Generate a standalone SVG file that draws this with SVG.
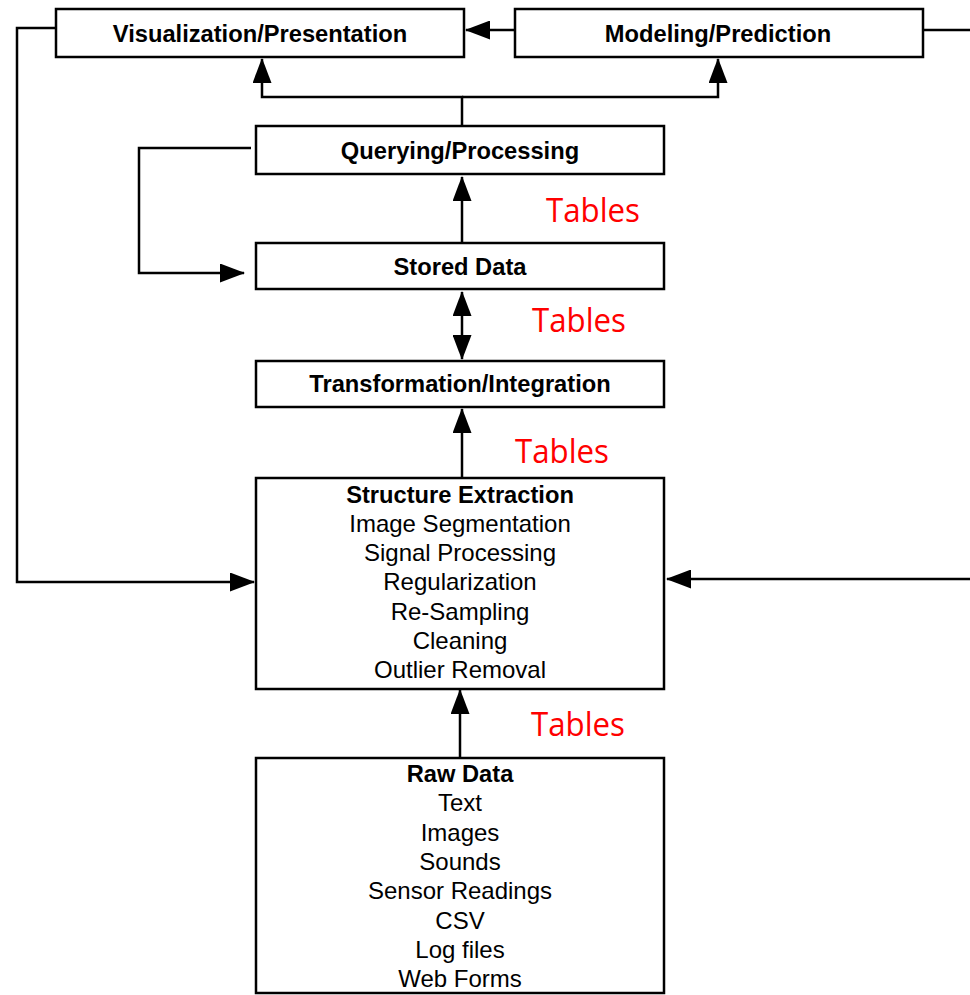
<svg xmlns="http://www.w3.org/2000/svg" width="970" height="995" viewBox="0 0 970 995">
  <style>
    .box { fill: #ffffff; stroke: #000000; stroke-width: 2.5; }
    .title { font-family: "Liberation Sans", Arial, sans-serif; font-weight: bold; font-size: 23.7px; fill: #000000; text-anchor: middle; }
    .item { font-family: "Liberation Sans", Arial, sans-serif; font-size: 24px; fill: #000000; text-anchor: middle; }
    .tables { font-family: "Open Sans", "Noto Sans", sans-serif; font-size: 33px; fill: #ff0000; }
    .wire { fill: none; stroke: #000000; stroke-width: 2.5; }
  </style>
  <defs>
    <marker id="arrow" viewBox="0 0 25 19" refX="24" refY="9.5" markerWidth="25" markerHeight="19" markerUnits="userSpaceOnUse" orient="auto-start-reverse">
      <path d="M0,0 L25,9.5 L0,19 Z" fill="#000000"/>
    </marker>
  </defs>

  <rect width="970" height="995" fill="#ffffff"/>

  <!-- connectors -->
  <g id="connectors">
    <!-- Modeling -> Visualization -->
    <path class="wire" d="M515,30 H466" marker-end="url(#arrow)"/>
    <!-- Querying fan-out to Visualization and Modeling -->
    <path class="wire" d="M462,126 V97 H262 V59" marker-end="url(#arrow)"/>
    <path class="wire" d="M462,97 H718 V59" marker-end="url(#arrow)"/>
    <!-- Visualization feedback to Structure Extraction -->
    <path class="wire" d="M55,28 H17 V582 H254" marker-end="url(#arrow)"/>
    <!-- Modeling feedback to Structure Extraction -->
    <path class="wire" d="M923,30 H972"/>
    <path class="wire" d="M972,579 H667" marker-end="url(#arrow)"/>
    <!-- Querying loop back to Stored Data -->
    <path class="wire" d="M251,148 H139 V273 H244" marker-end="url(#arrow)"/>
    <!-- Stored Data -> Querying -->
    <path class="wire" d="M462,243 V177" marker-end="url(#arrow)"/>
    <!-- Stored Data <-> Transformation -->
    <path class="wire" d="M462,292 V359" marker-start="url(#arrow)" marker-end="url(#arrow)"/>
    <!-- Structure Extraction -> Transformation -->
    <path class="wire" d="M462,478 V409" marker-end="url(#arrow)"/>
    <!-- Raw Data -> Structure Extraction -->
    <path class="wire" d="M460,758 V690" marker-end="url(#arrow)"/>
  </g>

  <g id="visualization">
    <rect class="box" x="56" y="9" width="408" height="48"/>
    <text class="title" x="260" y="42">Visualization/Presentation</text>
  </g>

  <g id="modeling">
    <rect class="box" x="515" y="9" width="408" height="48"/>
    <text class="title" x="718" y="42">Modeling/Prediction</text>
  </g>

  <g id="querying">
    <rect class="box" x="256" y="126" width="408" height="48"/>
    <text class="title" x="460" y="159">Querying/Processing</text>
  </g>

  <g id="stored">
    <rect class="box" x="256" y="243" width="408" height="46"/>
    <text class="title" x="460" y="275">Stored Data</text>
  </g>

  <g id="transformation">
    <rect class="box" x="256" y="361" width="408" height="46"/>
    <text class="title" x="460" y="392">Transformation/Integration</text>
  </g>

  <g id="structure">
    <rect class="box" x="256" y="478" width="408" height="211"/>
    <text class="title" x="460" y="502.5">Structure Extraction</text>
    <text class="item" x="460" y="531.8">Image Segmentation</text>
    <text class="item" x="460" y="561.1">Signal Processing</text>
    <text class="item" x="460" y="590.4">Regularization</text>
    <text class="item" x="460" y="619.7">Re-Sampling</text>
    <text class="item" x="460" y="649">Cleaning</text>
    <text class="item" x="460" y="678.3">Outlier Removal</text>
  </g>

  <g id="raw">
    <rect class="box" x="256" y="758" width="408" height="235"/>
    <text class="title" x="460" y="782">Raw Data</text>
    <text class="item" x="460" y="811.3">Text</text>
    <text class="item" x="460" y="840.6">Images</text>
    <text class="item" x="460" y="869.9">Sounds</text>
    <text class="item" x="460" y="899.2">Sensor Readings</text>
    <text class="item" x="460" y="928.5">CSV</text>
    <text class="item" x="460" y="957.8">Log files</text>
    <text class="item" x="460" y="987.1">Web Forms</text>
  </g>

  <!-- edge labels -->
  <g id="labels">
    <text class="tables" x="546" y="222" textLength="94" lengthAdjust="spacingAndGlyphs">Tables</text>
    <text class="tables" x="532" y="332" textLength="94" lengthAdjust="spacingAndGlyphs">Tables</text>
    <text class="tables" x="515" y="463" textLength="94" lengthAdjust="spacingAndGlyphs">Tables</text>
    <text class="tables" x="531" y="736" textLength="94" lengthAdjust="spacingAndGlyphs">Tables</text>
  </g>
</svg>
